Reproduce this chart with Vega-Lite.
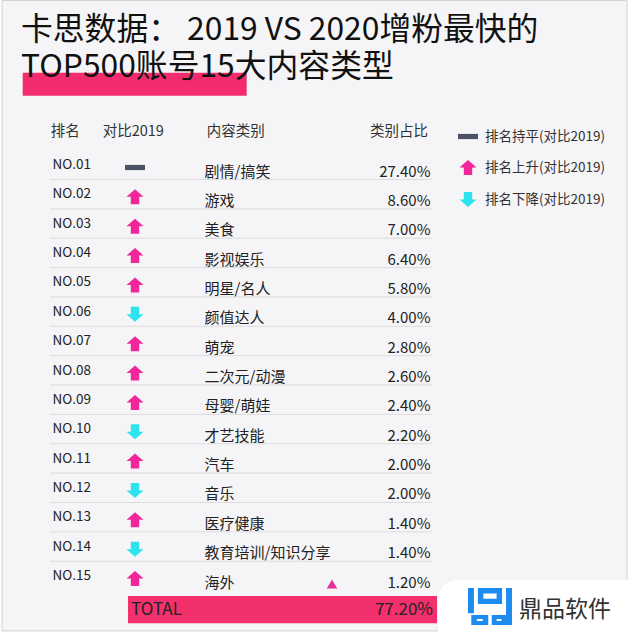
{
  "$schema": "https://vega.github.io/schema/vega-lite/v6.json",
  "width": 640,
  "height": 636,
  "autosize": {"type": "none"},
  "padding": 0,
  "background": "#ffffff",
  "config": {
    "view": {"stroke": null},
    "font": "Noto Sans CJK SC",
    "axis": {"disable": true},
    "text": {"font": "Noto Sans CJK SC", "baseline": "middle", "color": "#222222"}
  },
  "datasets": {
    "rows": [
      {"rank": 1, "no": "NO.01", "change": "持平", "category": "剧情/搞笑", "share": 0.274},
      {"rank": 2, "no": "NO.02", "change": "上升", "category": "游戏", "share": 0.086},
      {"rank": 3, "no": "NO.03", "change": "上升", "category": "美食", "share": 0.070},
      {"rank": 4, "no": "NO.04", "change": "上升", "category": "影视娱乐", "share": 0.064},
      {"rank": 5, "no": "NO.05", "change": "上升", "category": "明星/名人", "share": 0.058},
      {"rank": 6, "no": "NO.06", "change": "下降", "category": "颜值达人", "share": 0.040},
      {"rank": 7, "no": "NO.07", "change": "上升", "category": "萌宠", "share": 0.028},
      {"rank": 8, "no": "NO.08", "change": "上升", "category": "二次元/动漫", "share": 0.026},
      {"rank": 9, "no": "NO.09", "change": "上升", "category": "母婴/萌娃", "share": 0.024},
      {"rank": 10, "no": "NO.10", "change": "下降", "category": "才艺技能", "share": 0.022},
      {"rank": 11, "no": "NO.11", "change": "上升", "category": "汽车", "share": 0.020},
      {"rank": 12, "no": "NO.12", "change": "下降", "category": "音乐", "share": 0.020},
      {"rank": 13, "no": "NO.13", "change": "上升", "category": "医疗健康", "share": 0.014},
      {"rank": 14, "no": "NO.14", "change": "下降", "category": "教育培训/知识分享", "share": 0.014},
      {"rank": 15, "no": "NO.15", "change": "上升", "category": "海外", "share": 0.012}
    ]
  },
  "layer": [
    {
      "data": {"values": [{}]},
      "mark": {"type": "rect", "fill": "#f5f5f7", "stroke": "#d2d2d4", "strokeWidth": 1},
      "encoding": {
        "x": {"datum": 2, "type": "quantitative", "scale": {"domain": [0, 640], "nice": false, "zero": false}, "axis": null},
        "x2": {"datum": 627},
        "y": {"datum": -4.6, "type": "quantitative", "scale": {"domain": [-4.62, 17.042], "reverse": true, "nice": false, "zero": false}, "axis": null},
        "y2": {"datum": 16.87}
      }
    },
    {
      "data": {"values": [{}]},
      "mark": {"type": "rect", "fill": "#f32d6d"},
      "encoding": {
        "x": {"datum": 22.7, "type": "quantitative"},
        "x2": {"datum": 246.7},
        "y": {"datum": -2.144, "type": "quantitative"},
        "y2": {"datum": -1.361}
      }
    },
    {
      "data": {"values": [{}]},
      "mark": {"type": "text", "align": "left", "fontSize": 31.8, "lineHeight": 37.3, "color": "#111111"},
      "encoding": {
        "x": {"datum": 21, "type": "quantitative"},
        "y": {"datum": -3.6, "type": "quantitative"},
        "text": {"value": ["卡思数据： 2019 VS 2020增粉最快的", "TOP500账号15大内容类型"]}
      }
    },
    {
      "data": {"values": [{}]},
      "mark": {"type": "text", "align": "left", "fontSize": 14.5, "color": "#333333"},
      "encoding": {
        "x": {"datum": 50.7, "type": "quantitative"},
        "y": {"datum": -0.124, "type": "quantitative"},
        "text": {"value": "排名"}
      }
    },
    {
      "data": {"values": [{}]},
      "mark": {"type": "text", "align": "left", "fontSize": 14.5, "color": "#333333"},
      "encoding": {
        "x": {"datum": 102.7, "type": "quantitative"},
        "y": {"datum": -0.124, "type": "quantitative"},
        "text": {"value": "对比2019"}
      }
    },
    {
      "data": {"values": [{}]},
      "mark": {"type": "text", "align": "left", "fontSize": 14.5, "color": "#333333"},
      "encoding": {
        "x": {"datum": 206.7, "type": "quantitative"},
        "y": {"datum": -0.124, "type": "quantitative"},
        "text": {"value": "内容类别"}
      }
    },
    {
      "data": {"values": [{}]},
      "mark": {"type": "text", "align": "right", "fontSize": 14.5, "color": "#333333"},
      "encoding": {
        "x": {"datum": 428, "type": "quantitative"},
        "y": {"datum": -0.124, "type": "quantitative"},
        "text": {"value": "类别占比"}
      }
    },
    {
      "data": {"name": "rows"},
      "transform": [{"filter": "datum.rank <= 14"}],
      "mark": {"type": "rule", "stroke": "#dcdcde", "strokeWidth": 1},
      "encoding": {
        "x": {"datum": 50, "type": "quantitative"},
        "x2": {"datum": 432},
        "y": {"field": "rank", "type": "quantitative"},
        "yOffset": {"value": 14.5}
      }
    },
    {
      "data": {"name": "rows"},
      "mark": {"type": "text", "align": "left", "fontSize": 13.5},
      "encoding": {
        "x": {"datum": 52.5, "type": "quantitative"},
        "y": {"field": "rank", "type": "quantitative"},
        "text": {"field": "no"}
      }
    },
    {
      "data": {"name": "rows"},
      "mark": {"type": "point", "filled": true, "opacity": 1, "size": 400, "strokeWidth": 0},
      "encoding": {
        "x": {"datum": 135, "type": "quantitative"},
        "y": {"field": "rank", "type": "quantitative"},
        "yOffset": {"value": 2.5},
        "color": {
          "field": "change",
          "type": "nominal",
          "scale": {"domain": ["持平", "上升", "下降"], "range": ["#4a5366", "#f0269a", "#2de4ee"]},
          "legend": {
            "title": null,
            "orient": "none",
            "legendX": 458,
            "legendY": 126.5,
            "padding": 0,
            "symbolSize": 400,
            "symbolStrokeWidth": 0,
            "symbolOpacity": 1,
            "labelFont": "Noto Sans CJK SC",
            "labelFontSize": 13.5,
            "labelColor": "#333333",
            "labelOffset": 7,
            "rowPadding": 14,
            "labelExpr": "'排名' + datum.label + '(对比2019)'"
          }
        },
        "shape": {
          "field": "change",
          "type": "nominal",
          "scale": {
            "domain": ["持平", "上升", "下降"],
            "range": [
              "M-1,-0.26H1V0.26H-1Z",
              "M0,-0.75L0.85,0L0.42,0L0.42,0.75L-0.42,0.75L-0.42,0L-0.85,0Z",
              "M0,0.75L0.85,0L0.42,0L0.42,-0.75L-0.42,-0.75L-0.42,0L-0.85,0Z"
            ]
          },
          "legend": {
            "title": null,
            "orient": "none",
            "legendX": 458,
            "legendY": 126.5,
            "padding": 0,
            "symbolSize": 400,
            "symbolStrokeWidth": 0,
            "symbolOpacity": 1,
            "labelFont": "Noto Sans CJK SC",
            "labelFontSize": 13.5,
            "labelColor": "#333333",
            "labelOffset": 7,
            "rowPadding": 14,
            "labelExpr": "'排名' + datum.label + '(对比2019)'"
          }
        }
      }
    },
    {
      "data": {"name": "rows"},
      "mark": {"type": "text", "align": "left", "fontSize": 15},
      "encoding": {
        "x": {"datum": 204.5, "type": "quantitative"},
        "y": {"field": "rank", "type": "quantitative"},
        "yOffset": {"value": 6.5},
        "text": {"field": "category"}
      }
    },
    {
      "data": {"name": "rows"},
      "mark": {"type": "text", "align": "right", "fontSize": 15},
      "encoding": {
        "x": {"datum": 430.5, "type": "quantitative"},
        "y": {"field": "rank", "type": "quantitative"},
        "yOffset": {"value": 6.5},
        "text": {"field": "share", "type": "quantitative", "format": ".2%"}
      }
    },
    {
      "data": {"values": [{}]},
      "mark": {"type": "point", "shape": "triangle-up", "filled": true, "opacity": 1, "size": 110, "color": "#e2349c"},
      "encoding": {
        "x": {"datum": 332, "type": "quantitative"},
        "y": {"datum": 15.27, "type": "quantitative"}
      }
    },
    {
      "data": {"values": [{}]},
      "mark": {"type": "rect", "fill": "#f2306c"},
      "encoding": {
        "x": {"datum": 128, "type": "quantitative"},
        "x2": {"datum": 437},
        "y": {"datum": 15.68, "type": "quantitative"},
        "y2": {"datum": 16.61}
      }
    },
    {
      "data": {"values": [{}]},
      "mark": {"type": "text", "align": "left", "fontSize": 17, "color": "#222222"},
      "encoding": {
        "x": {"datum": 131, "type": "quantitative"},
        "y": {"datum": 16.157, "type": "quantitative"},
        "text": {"value": "TOTAL"}
      }
    },
    {
      "data": {"name": "rows"},
      "transform": [{"aggregate": [{"op": "sum", "field": "share", "as": "total"}]}],
      "mark": {"type": "text", "align": "right", "fontSize": 17, "color": "#222222"},
      "encoding": {
        "x": {"datum": 433, "type": "quantitative"},
        "y": {"datum": 16.157, "type": "quantitative"},
        "text": {"field": "total", "type": "quantitative", "format": ".2%"}
      }
    },
    {
      "data": {"values": [{}]},
      "mark": {"type": "rect", "fill": "#ffffff", "cornerRadiusTopLeft": 20},
      "encoding": {
        "x": {"datum": 438, "type": "quantitative"},
        "x2": {"datum": 645},
        "y": {"datum": 15.13, "type": "quantitative"},
        "y2": {"datum": 17.1}
      }
    },
    {
      "data": {"values": [{}]},
      "mark": {
        "type": "point",
        "filled": true,
        "opacity": 1,
        "size": 1936,
        "strokeWidth": 0,
        "color": "#1d8cf0",
        "shape": "M-1,-0.84H-0.73V0.3H-1Z M0.73,-0.84H1V0.84H0.73Z M-0.55,-0.84H0.55V-0.12H-0.55Z M-0.3,-0.6V-0.36H0.3V-0.6Z M-0.85,0.38H-0.08V0.84H-0.85Z M-0.6,0.56V0.66H-0.33V0.56Z M0.08,0.38H0.73V0.84H0.08Z M0.3,0.56V0.66H0.52V0.56Z"
      },
      "encoding": {
        "x": {"datum": 490, "type": "quantitative"},
        "y": {"datum": 16.04, "type": "quantitative"}
      }
    },
    {
      "data": {"values": [{}]},
      "mark": {"type": "text", "align": "left", "fontSize": 23, "color": "#333333"},
      "encoding": {
        "x": {"datum": 519, "type": "quantitative"},
        "y": {"datum": 16.157, "type": "quantitative"},
        "text": {"value": "鼎品软件"}
      }
    }
  ]
}
